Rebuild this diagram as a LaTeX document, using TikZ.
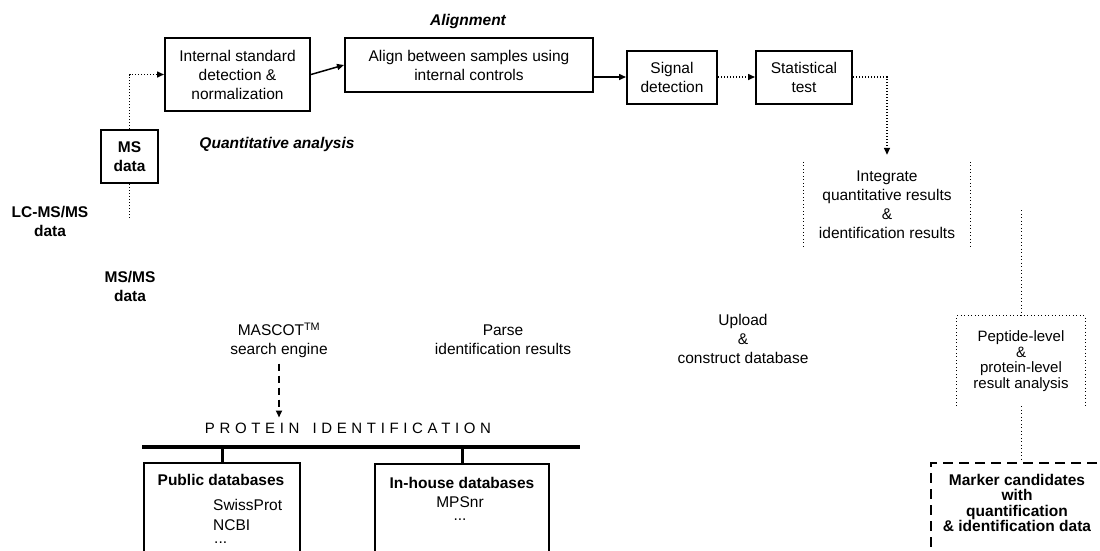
\documentclass[tikz,border=0pt]{standalone}
\usepackage{fontspec}
\setmainfont{Liberation Sans}
\usetikzlibrary{arrows.meta,calc}
\newcommand\fsb{\fontsize{15.5}{19}\selectfont}
\newcommand\fst{\fontsize{15}{15.5}\selectfont}
\begin{document}
\begin{tikzpicture}[x=1pt,y=-1pt,
  every node/.style={font=\fsb, align=center, inner sep=0pt},
  box/.style={draw, line width=2pt},
  arr/.style={line width=1.5pt, -{Triangle[length=7pt,width=6pt]}},
  dots/.style={line width=1.5pt, dash pattern=on 1.3pt off 1.7pt},
  faint/.style={line width=1pt, dash pattern=on 0.9pt off 2.6pt},
  dashbox/.style={draw, line width=2.2pt, dash pattern=on 10pt off 6pt},
  bar/.style={line width=3.8pt},
  stem/.style={line width=3pt}
]
\useasboundingbox (0,0) rectangle (1100,550);

% quantitative analysis pipeline
\node[box, minimum width=145, minimum height=73] (int) at (237.5,74.5) {Internal standard\\detection \&\\normalization};
\node[box, minimum width=248, minimum height=54] (aln) at (469,65) {Align between samples using\\internal controls};
\node[box, minimum width=90, minimum height=53] (sig) at (672,77) {Signal\\detection};
\node[box, minimum width=96, minimum height=53] (stat) at (804,77) {Statistical\\test};
\node[font=\fsb\bfseries\itshape] (alnlbl) at (468,21) {Alignment};
\node[font=\fsb\bfseries\itshape] (qlbl) at (277,144) {Quantitative analysis};

% input data
\node[box, font=\fsb\bfseries, minimum width=57, minimum height=53] (ms) at (129.5,156.5) {MS\\data};
\node[font=\fsb\bfseries] (lcms) at (50,221) {LC-MS/MS\\data};
\node[font=\fsb\bfseries] (msms) at (130,286) {MS/MS\\data};
\coordinate (msend) at (129.5,218);

% identification branch
\node (masc) at (279,340) {MASCOT\textsuperscript{TM}\\search engine};
\node (parse) at (503,340) {Parse\\identification results};
\node (upl) at (743,339) {Upload\\\&\\construct database};
\node[font=\fontsize{15}{17}\selectfont\addfontfeatures{LetterSpace=31}] (pid) at (348,428) {PROTEIN\hspace{13pt}IDENTIFICATION};

\coordinate (barL) at (142,447);
\coordinate (barR) at (580,447);
\draw[bar] (barL) -- (barR);
\node[box, anchor=north west, minimum width=156, minimum height=110] (pub) at (143,462) {};
\node[box, anchor=north west, minimum width=174, minimum height=110] (inh) at (374,463) {};
\draw[stem] (pub.north) -- (pub.north |- barL);
\draw[stem] (inh.north) -- (inh.north |- barL);

\node[font=\fsb\bfseries] (pubh) at (221,480) {Public databases};
\node[anchor=west] (sp) at (213,505) {SwissProt};
\node[anchor=west] (ncbi) at (213,525) {NCBI};
\node[anchor=west] (pdots) at (214,543) {...};
\node[font=\fsb\bfseries] (inhh) at (462,483) {In-house databases};
\node (mps) at (460,502) {MPSnr};
\node (idots) at (460,520) {...};

% integration and result analysis
\node[minimum width=166, minimum height=100] (integ) at (887,205) {Integrate\\quantitative results\\\&\\identification results};
\draw[faint] ($(integ.north west)+(0,7)$) -- ($(integ.south west)+(0,-7)$);
\draw[faint] ($(integ.north east)+(0,7)$) -- ($(integ.south east)+(0,-7)$);

\node[font=\fst, minimum width=128, minimum height=90] (pep) at (1021,361) {Peptide-level\\\&\\protein-level\\result analysis};
\draw[faint] (pep.south west) -- (pep.north west) -- (pep.north east) -- (pep.south east);
\coordinate (ip) at (1021,210);

\node[dashbox, anchor=north west, minimum width=180, minimum height=110] (mkbox) at (930,462) {};
\node[font=\fontsize{15.5}{15.4}\selectfont\bfseries] (mk) at (1017,503) {Marker candidates\\with\\quantification\\\& identification data};

% connectors
\draw[arr] (int.east) -- (aln.west);
\draw[arr] (aln.east |- sig.west) -- (sig.west);
\draw[arr, dots] (sig.east) -- (stat.west);
\draw[arr, dots] (stat.east) -| (integ.north);
\draw[arr, dots] (ms.north) |- (int.west);
\draw[dots] (ms.south) -- (msend);
\draw[arr, line width=1.6pt, dash pattern=on 7pt off 5pt, shorten <=6pt, shorten >=5pt] (masc.south) -- (masc.south |- pid.north);
\draw[faint] (ip) -- (pep.north);
\draw[faint] (pep.south) -- (pep.south |- mkbox.north);
\end{tikzpicture}
\end{document}
